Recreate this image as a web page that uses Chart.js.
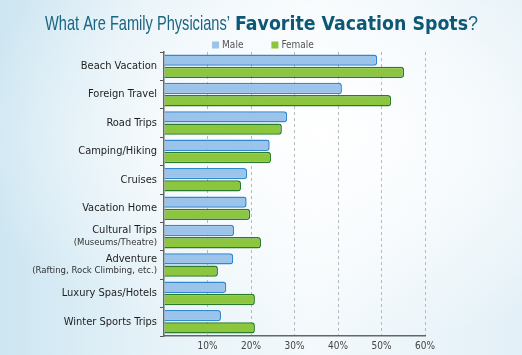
<!DOCTYPE html>
<html>
<head>
<meta charset="utf-8">
<script src="https://cdn.jsdelivr.net/npm/chart.js@4"></script>
<style>
  html, body { margin: 0; padding: 0; }
  body {
    width: 522px; height: 355px; overflow: hidden;
    background:
      radial-gradient(ellipse 70% 60% at 62% 38%, rgba(255,255,255,0.95) 0%, rgba(255,255,255,0.6) 45%, rgba(255,255,255,0) 100%),
      linear-gradient(90deg, #cde6f2 0%, #e6f2f8 30%, #f3f9fc 60%, #e3f0f7 100%);
  }
  #wrap { position: relative; width: 522px; height: 355px; }
</style>
</head>
<body>
<div id="wrap"><canvas id="c"></canvas></div>
<script>
// ---- data ----
const categories = ['Beach Vacation','Foreign Travel','Road Trips','Camping/Hiking','Cruises','Vacation Home','Cultural Trips','Adventure','Luxury Spas/Hotels','Winter Sports Trips'];
const subLabels = ['', '', '', '', '', '', '(Museums/Theatre)', '(Rafting, Rock Climbing, etc.)', '', ''];
const maleValues   = [49.0, 40.9, 28.3, 24.3, 19.1, 19.0, 16.1, 15.9, 14.3, 13.1];
const femaleValues = [55.2, 52.2, 27.1, 24.6, 17.7, 19.8, 22.3, 12.4, 20.9, 20.9];
const seriesNames = ['Male', 'Female'];
const xTicks = [0, 10, 20, 30, 40, 50, 60];
const titleParts = ['What Are Family Physicians\u2019 ', 'Favorite Vacation Spots', '?'];

const narrow = "'Liberation Sans Narrow', 'Arial Narrow', 'DejaVu Sans Condensed', sans-serif";

const titleLegendPlugin = {
  id: 'titleLegend',
  afterDraw(chart) {
    const ctx = chart.ctx;
    ctx.save();
    const drawFit = (text, font, color, x, targetW, baseline) => {
      ctx.font = font;
      const w = ctx.measureText(text).width;
      ctx.save();
      ctx.translate(x, baseline);
      ctx.scale(targetW / w, 1);
      ctx.fillStyle = color;
      ctx.textBaseline = 'alphabetic';
      ctx.textAlign = 'left';
      ctx.fillText(text, 0, 0);
      ctx.restore();
    };
    drawFit(titleParts[0], "21px 'Liberation Sans', Arial, sans-serif", '#1b6582', 45, 189, 30);
    drawFit(titleParts[1], "bold 19.5px 'DejaVu Sans', Verdana, sans-serif", '#0d5875', 235, 233, 30);
    drawFit(titleParts[2], "21px 'Liberation Sans', Arial, sans-serif", '#1b6582', 468, 10, 30);

    // legend
    ctx.font = "10px " + narrow;
    ctx.textBaseline = 'middle';
    const ds = chart.data.datasets;
    const box = 7, gapText = 3, gapItem = 28;
    let total = 0;
    const widths = ds.map(d => ctx.measureText(d.label).width);
    widths.forEach((w, i) => { total += box + gapText + w + (i < ds.length - 1 ? gapItem : 0); });
    let x = 263 - total / 2;
    const y = 45;
    ds.forEach((d, i) => {
      ctx.fillStyle = d.backgroundColor;
      ctx.fillRect(x, y - box / 2, box, box);
      x += box + gapText;
      ctx.fillStyle = '#555';
      ctx.textAlign = 'left';
      ctx.fillText(d.label, x, y + 0.5);
      x += widths[i] + gapItem;
    });

    // sub labels under two-line category labels
    const ys = chart.scales.y;
    ctx.font = "9.5px " + narrow;
    ctx.fillStyle = '#333';
    ctx.textAlign = 'right';
    ctx.textBaseline = 'middle';
    subLabels.forEach((s, i) => {
      if (!s) return;
      const py = ys.getPixelForValue(i);
      ctx.fillText(s, ys.right - 7, py + 6);
    });
    ctx.restore();
  }
};

new Chart(document.getElementById('c'), {
  type: 'bar',
  data: {
    labels: categories,
    datasets: [
      { label: seriesNames[0], data: maleValues, backgroundColor: '#9cc3ea', borderColor: '#3088d0', borderWidth: 1.5, borderRadius: 3, borderSkipped: 'start' },
      { label: seriesNames[1], data: femaleValues, backgroundColor: '#8cc63f', borderColor: '#2c7a2f', borderWidth: 1.5, borderRadius: 3, borderSkipped: 'start' }
    ]
  },
  options: {
    indexAxis: 'y',
    responsive: true,
    maintainAspectRatio: false,
    animation: false,
    layout: { padding: { left: 0, right: 97, top: 52, bottom: 0 } },
    datasets: { bar: { categoryPercentage: 0.86, barPercentage: 0.93 } },
    plugins: { legend: { display: false }, title: { display: false }, tooltip: { enabled: false } },
    scales: {
      x: {
        min: 0, max: 60,
        afterBuildTicks(scale) { scale.ticks = xTicks.map(v => ({ value: v })); },
        afterFit(scale) { scale.height = 19; },
        ticks: {
          callback: v => (v === 0 ? '' : v + '%'),
          color: '#444', font: { size: 10, family: narrow }, padding: 4, maxRotation: 0
        },
        grid: {
          drawTicks: false,
          color: ctx => (ctx.tick && ctx.tick.value === 0 ? 'rgba(0,0,0,0)' : '#b4babd'),
          lineWidth: 1
        },
        border: { color: '#666', width: 1.5, dash: [3, 3], display: true }
      },
      y: {
        afterFit(scale) { scale.width = 164; },
        ticks: {
          autoSkip: false,
          callback: function (v, i) { return subLabels[i] ? [categories[i], ''] : categories[i]; },
          color: '#1e1e1e', font: { size: 11, family: narrow, lineHeight: 1.15 }, padding: 3
        },
        grid: { drawOnChartArea: false, tickLength: 4, color: '#555', offset: true },
        border: { color: '#666', width: 1.5 }
      }
    }
  },
  plugins: [titleLegendPlugin]
});
</script>
</body>
</html>
